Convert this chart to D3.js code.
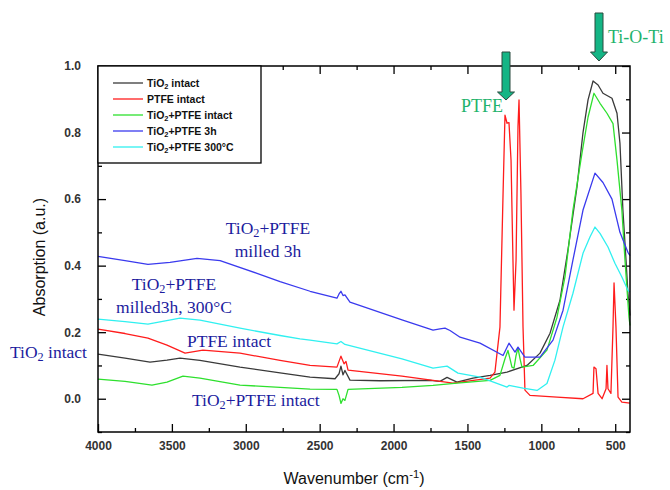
<!DOCTYPE html>
<html>
<head>
<meta charset="utf-8">
<script src="https://cdn.jsdelivr.net/npm/d3@7"></script>
<style>
  html, body { margin: 0; padding: 0; background: #fff; }
  svg { display: block; }
  .tick text { font-family: "Liberation Sans", Arial, sans-serif; font-weight: bold; font-size: 12px; fill: #333; }
  .tick line { stroke: #000; stroke-width: 1.3; }
  .domain { display: none; }
  .note { font-family: "Liberation Serif", "Times New Roman", serif; font-size: 17.5px; fill: #1c1c9e; }
  .note-green { font-family: "Liberation Serif", "Times New Roman", serif; font-size: 18px; fill: #1fb36c; }
  .legend text { font-family: "Liberation Sans", Arial, sans-serif; font-weight: bold; font-size: 10.5px; fill: #111; }
  .axis-title { font-family: "Liberation Sans", Arial, sans-serif; font-size: 16px; fill: #111; }
</style>
</head>
<body>
<svg id="chart" width="670" height="490"></svg>
<script>
// FTIR spectra, [wavenumber cm-1, absorption a.u.]
const tio2Intact = [
  [4000,0.134],[3817,0.122],[3648,0.110],[3533,0.116],[3445,0.122],[3310,0.115],[3039,0.095],
  [2768,0.078],[2565,0.065],[2396,0.060],[2369,0.075],[2356,0.098],[2342,0.072],[2329,0.085],
  [2295,0.056],[2092,0.054],[1753,0.055],[1686,0.052],[1638,0.064],[1571,0.050],[1462,0.062],
  [1347,0.070],[1232,0.080],[1097,0.100],[1009,0.137],[941,0.197],[874,0.296],[820,0.447],
  [759,0.636],[718,0.800],[684,0.898],[650,0.955],[616,0.943],[583,0.918],[522,0.903],
  [488,0.858],[468,0.768],[448,0.567],[427,0.417],[414,0.317],[400,0.250]
];
const ptfeIntact = [
  [4000,0.209],[3817,0.196],[3662,0.182],[3533,0.161],[3411,0.137],[3290,0.146],[3039,0.137],
  [2768,0.115],[2565,0.100],[2383,0.095],[2356,0.128],[2335,0.105],[2322,0.112],[2308,0.086],
  [1943,0.068],[1733,0.055],[1598,0.047],[1347,0.062],[1314,0.080],[1280,0.215],[1259,0.617],
  [1246,0.852],[1232,0.828],[1219,0.830],[1205,0.717],[1192,0.417],[1185,0.266],[1171,0.417],
  [1158,0.817],[1151,0.898],[1138,0.617],[1124,0.216],[1111,0.026],[1077,0.010],[894,0.005],
  [718,0.000],[650,0.016],[644,0.095],[630,0.090],[616,0.016],[589,0.000],[562,0.030],
  [556,0.100],[549,0.030],[529,0.016],[515,0.216],[508,0.348],[495,0.216],[481,0.005],
  [455,-0.010],[400,-0.013]
];
const mixIntact = [
  [4000,0.059],[3817,0.052],[3635,0.041],[3533,0.050],[3425,0.068],[3310,0.062],[3039,0.041],
  [2768,0.034],[2565,0.029],[2383,0.028],[2369,0.010],[2356,-0.014],[2342,0.000],[2329,-0.005],
  [2308,0.028],[1943,0.034],[1733,0.040],[1571,0.047],[1347,0.055],[1280,0.070],[1246,0.120],
  [1226,0.145],[1212,0.120],[1199,0.095],[1185,0.092],[1171,0.130],[1158,0.152],[1144,0.120],
  [1131,0.095],[1056,0.100],[962,0.146],[894,0.245],[840,0.366],[786,0.567],[725,0.738],
  [684,0.846],[644,0.918],[603,0.888],[556,0.858],[515,0.827],[488,0.717],[455,0.567],
  [434,0.417],[407,0.245],[400,0.220]
];
const mixMilled3h = [
  [4000,0.428],[3817,0.415],[3662,0.404],[3513,0.410],[3330,0.422],[3174,0.415],[2924,0.377],
  [2768,0.352],[2565,0.323],[2383,0.302],[2369,0.315],[2356,0.323],[2342,0.310],[2329,0.312],
  [2295,0.290],[1943,0.237],[1733,0.206],[1686,0.210],[1652,0.212],[1618,0.205],[1550,0.185],
  [1415,0.167],[1259,0.130],[1219,0.167],[1178,0.140],[1158,0.155],[1111,0.125],[1009,0.125],
  [921,0.176],[853,0.266],[786,0.417],[718,0.567],[637,0.678],[583,0.650],[522,0.600],
  [468,0.500],[414,0.440],[400,0.430]
];
const mix300C = [
  [4000,0.239],[3817,0.232],[3662,0.224],[3445,0.242],[3310,0.236],[3039,0.212],[2768,0.190],
  [2633,0.180],[2565,0.176],[2383,0.165],[2356,0.172],[2329,0.163],[1943,0.120],[1733,0.092],
  [1638,0.098],[1564,0.077],[1415,0.065],[1232,0.035],[1219,0.040],[1124,0.032],[1029,0.025],
  [962,0.046],[908,0.116],[853,0.216],[786,0.317],[718,0.437],[671,0.486],[637,0.516],
  [603,0.497],[549,0.456],[502,0.407],[455,0.366],[414,0.326],[400,0.320]
];

const seriesNames = ["TiO2 intact", "PTFE intact", "TiO2+PTFE intact", "TiO2+PTFE 3h", "TiO2+PTFE 300°C"];
const seriesData = [tio2Intact, ptfeIntact, mixIntact, mixMilled3h, mix300C];
const seriesColors = ["#3a3a3a", "#ff1c1c", "#2ee02e", "#3a3aee", "#30f0f0"];

const xMajorTicks = [4000, 3500, 3000, 2500, 2000, 1500, 1000, 500];
const xMinorTicks = [3750, 3250, 2750, 2250, 1750, 1250, 750];
const yMajorTicks = [0.0, 0.2, 0.4, 0.6, 0.8, 1.0];
const yMinorTicks = [-0.1, 0.1, 0.3, 0.5, 0.7, 0.9];

const plot = { left: 98, right: 630, top: 66, bottom: 432 };

const svg = d3.select("#chart");

const x = d3.scaleLinear().domain([4000, 400]).range([plot.left, plot.right]);
const y = d3.scaleLinear().domain([-0.1, 1.0]).range([plot.bottom, plot.top]);

// write "TiO2" with a subscript 2
function richText(sel, str) {
    const parts = str.split("TiO2");
    parts.forEach((p, i) => {
        if (i > 0) {
            sel.append("tspan").text("TiO");
            sel.append("tspan").attr("baseline-shift", "-22%").attr("font-size", "70%").text("2");
        }
        if (p) sel.append("tspan").text(p);
    });
}

// axes, ticks pointing into the plot on all four sides
const fmt = d3.format(".1f");
svg.append("g").attr("transform", `translate(0,${plot.bottom})`)
    .call(d3.axisBottom(x).tickValues(xMajorTicks).tickSize(-8).tickPadding(9).tickFormat(d3.format("d")));
svg.append("g").attr("transform", `translate(0,${plot.bottom})`)
    .call(d3.axisBottom(x).tickValues(xMinorTicks).tickSize(-4).tickFormat(""));
svg.append("g").attr("transform", `translate(0,${plot.top})`)
    .call(d3.axisTop(x).tickValues(xMajorTicks).tickSize(-8).tickFormat(""));
svg.append("g").attr("transform", `translate(0,${plot.top})`)
    .call(d3.axisTop(x).tickValues(xMinorTicks).tickSize(-4).tickFormat(""));
svg.append("g").attr("transform", `translate(${plot.left},0)`)
    .call(d3.axisLeft(y).tickValues(yMajorTicks).tickSize(-8).tickPadding(17).tickFormat(fmt));
svg.append("g").attr("transform", `translate(${plot.left},0)`)
    .call(d3.axisLeft(y).tickValues(yMinorTicks).tickSize(-4).tickFormat(""));
svg.append("g").attr("transform", `translate(${plot.right},0)`)
    .call(d3.axisRight(y).tickValues(yMajorTicks).tickSize(-8).tickFormat(""));
svg.append("g").attr("transform", `translate(${plot.right},0)`)
    .call(d3.axisRight(y).tickValues(yMinorTicks).tickSize(-4).tickFormat(""));

// spectra
const line = d3.line().x(d => x(d[0])).y(d => y(d[1]));
svg.append("g").selectAll("path")
    .data(seriesData)
    .join("path")
    .attr("fill", "none")
    .attr("stroke", (d, i) => seriesColors[i])
    .attr("stroke-width", 1.3)
    .attr("stroke-linejoin", "round")
    .attr("d", line);

// frame
svg.append("rect")
    .attr("x", plot.left).attr("y", plot.top)
    .attr("width", plot.right - plot.left).attr("height", plot.bottom - plot.top)
    .attr("fill", "none").attr("stroke", "#000").attr("stroke-width", 1.5);

// legend
const legend = svg.append("g").attr("class", "legend");
legend.append("rect")
    .attr("x", plot.left).attr("y", plot.top)
    .attr("width", 163).attr("height", 97)
    .attr("fill", "#fff").attr("stroke", "#000").attr("stroke-width", 1.3);
seriesNames.forEach((name, i) => {
    const ly = 83 + i * 16;
    legend.append("line")
        .attr("x1", 113).attr("x2", 143).attr("y1", ly).attr("y2", ly)
        .attr("stroke", seriesColors[i]).attr("stroke-width", 1.3);
    const t = legend.append("text").attr("x", 147).attr("y", ly + 4);
    richText(t, name);
});

// axis titles
svg.append("text").attr("class", "axis-title")
    .attr("transform", "translate(45,257) rotate(-90)")
    .attr("text-anchor", "middle")
    .text("Absorption (a.u.)");
const xt = svg.append("text").attr("class", "axis-title")
    .attr("x", 354).attr("y", 484).attr("text-anchor", "middle");
xt.append("tspan").text("Wavenumber (cm");
xt.append("tspan").attr("baseline-shift", "super").attr("font-size", "70%").text("-1");
xt.append("tspan").text(")");

// annotations
const notes = [
    { text: "TiO2+PTFE", x: 268, y: 234, anchor: "middle" },
    { text: "milled 3h", x: 268, y: 257, anchor: "middle" },
    { text: "TiO2+PTFE", x: 174, y: 290, anchor: "middle" },
    { text: "milled3h, 300°C", x: 174, y: 313, anchor: "middle" },
    { text: "TiO2 intact", x: 10, y: 358, anchor: "start" },
    { text: "PTFE intact", x: 229, y: 347, anchor: "middle" },
    { text: "TiO2+PTFE intact", x: 192, y: 406, anchor: "start" }
];
notes.forEach(n => {
    const t = svg.append("text").attr("class", "note")
        .attr("x", n.x).attr("y", n.y).attr("text-anchor", n.anchor);
    richText(t, n.text);
});

svg.append("text").attr("class", "note-green").attr("x", 461).attr("y", 112).text("PTFE");
svg.append("text").attr("class", "note-green").attr("x", 608).attr("y", 43).text("Ti-O-Ti");

// down arrows marking the bands
function arrow(cx, top, headTop, tip) {
    const pts = [
        [cx - 4, top], [cx + 4, top], [cx + 4, headTop], [cx + 8.5, headTop],
        [cx, tip], [cx - 8.5, headTop], [cx - 4, headTop]
    ];
    svg.append("polygon")
        .attr("points", pts.map(p => p.join(",")).join(" "))
        .attr("fill", "#14b585").attr("stroke", "#2b4a3e").attr("stroke-width", 1);
}
arrow(506, 52, 92, 100);
arrow(599, 13, 52, 61);
</script>
</body>
</html>
